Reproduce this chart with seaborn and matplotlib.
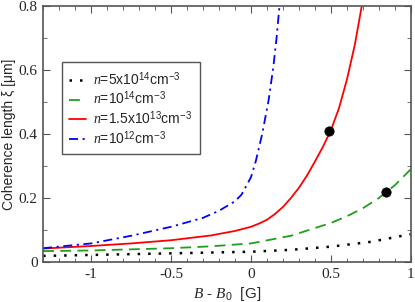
import numpy as np
import pandas as pd
import seaborn as sns
import matplotlib.pyplot as plt
from matplotlib.ticker import MultipleLocator

# values
x_black = [-1.3, -1.0, -0.5, 0.0, 0.25, 0.5, 0.75, 1.0]
y_black = [0.019, 0.022, 0.027, 0.032, 0.038, 0.048, 0.063, 0.087]

x_green = [-1.3, -1.0, -0.5, -0.25, 0.0, 0.25, 0.5, 0.6, 0.7, 0.8, 0.9, 1.0]
y_green = [0.034, 0.036, 0.043, 0.049, 0.058, 0.082, 0.122, 0.143, 0.168, 0.2, 0.24, 0.29]

x_red = [-1.3, -1.0, -0.75, -0.5, -0.25, -0.1, 0.0, 0.05, 0.1, 0.15, 0.2, 0.25, 0.3,
         0.35, 0.4, 0.45, 0.5, 0.55, 0.6, 0.65, 0.7]
y_red = [0.042, 0.05, 0.058, 0.068, 0.083, 0.097, 0.11, 0.12, 0.132, 0.15, 0.172, 0.2,
         0.232, 0.27, 0.314, 0.36, 0.412, 0.48, 0.57, 0.68, 0.82]

x_blue = [-1.3, -1.0, -0.75, -0.5, -0.3, -0.2, -0.1, -0.06, -0.04, 0.0, 0.03, 0.07,
          0.11, 0.14, 0.16, 0.18]
y_blue = [0.043, 0.058, 0.082, 0.11, 0.138, 0.16, 0.19, 0.21, 0.228, 0.265, 0.315, 0.40,
          0.505, 0.61, 0.70, 0.81]

x_dots = [0.49, 0.845]
y_dots = [0.41, 0.218]

labels = [r"$n$=5x10$^{14}$cm$^{-3}$", r"$n$=10$^{14}$cm$^{-3}$",
          r"$n$=1.5x10$^{13}$cm$^{-3}$", r"$n$=10$^{12}$cm$^{-3}$"]

sns.set_style("ticks")
plt.rcParams['font.family'] = ['Liberation Sans', 'DejaVu Sans']
plt.rcParams['mathtext.fontset'] = 'custom'
plt.rcParams['mathtext.rm'] = 'Liberation Sans'
plt.rcParams['mathtext.it'] = 'Liberation Serif:italic'

fig = plt.figure(figsize=(4.15, 3.02), dpi=100)
ax = fig.add_axes([0.104, 0.1325, 0.886, 0.8475])

styles = [
    (x_black, y_black, 'black', (0, (1.0, 3.2)), 1.8),
    (x_green, y_green, '#1f9e1f', (0, (6.0, 3.5)), 1.3),
    (x_red, y_red, '#ff0000', '-', 1.3),
    (x_blue, y_blue, '#0000ff', (0, (5.0, 2.5, 1.2, 2.5)), 1.3),
]
for (xs, ys, c, ls, lw), lab in zip(styles, labels):
    df = pd.DataFrame({'x': xs, 'y': ys})
    sns.lineplot(data=df, x='x', y='y', ax=ax, color=c, linestyle=ls,
                 linewidth=lw, label=lab, sort=False)

sns.scatterplot(x=x_dots, y=y_dots, ax=ax, color='black', s=45,
                edgecolor='black', zorder=5)

ax.set_xlim(-1.3, 1)
ax.set_ylim(0, 0.8)
ax.xaxis.set_minor_locator(MultipleLocator(0.1))
ax.yaxis.set_minor_locator(MultipleLocator(0.1))
ax.set_xticks([-1, -0.5, 0, 0.5, 1])
ax.set_xticklabels(['-1', '-0.5', '0', '0.5', '1'])
ax.set_yticks([0, 0.2, 0.4, 0.6, 0.8])
ax.set_yticklabels(['0', '0.2', '0.4', '0.6', '0.8'])
ax.tick_params(which='both', direction='in', top=True, right=True,
               color='#555555', labelsize=11, pad=4)
ax.tick_params(which='major', length=5)
ax.tick_params(which='minor', length=3)
for lab in ax.get_xticklabels() + ax.get_yticklabels():
    lab.set_family('Liberation Serif')
for sp in ax.spines.values():
    sp.set_color('#555555')
    sp.set_linewidth(1.2)

ax.set_ylabel(r"Coherence length ξ [μm]", fontsize=10, labelpad=2)
ax.set_xlabel(r"$B$ - $B_0$  [G]", fontsize=11, labelpad=3)

leg = ax.legend(loc='upper left', bbox_to_anchor=(0.05, 0.78), fontsize=10,
                handlelength=1.2, handletextpad=0.5, borderpad=0.55,
                labelspacing=0.12, fancybox=False, framealpha=1,
                borderaxespad=0)
leg.get_frame().set_edgecolor('#555555')
leg.get_frame().set_linewidth(1.0)

fig.savefig('out.png', dpi=100)
